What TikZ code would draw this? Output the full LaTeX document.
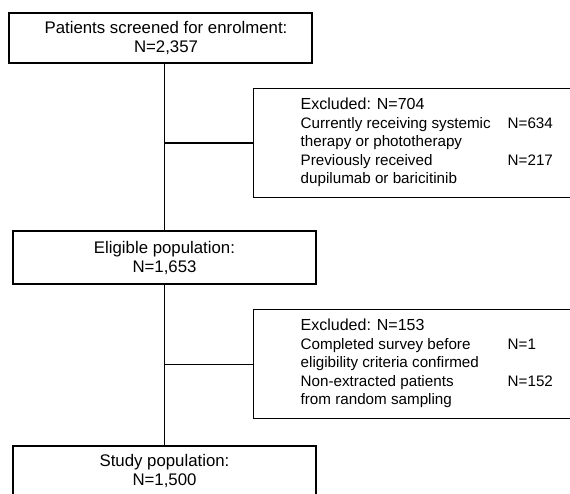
\documentclass[tikz,border=0pt]{standalone}
\usepackage{fontspec}
\setmainfont{Liberation Sans}
\usepackage{array}
\begin{document}
\begin{tikzpicture}[x=1pt,y=-1pt,
  box/.style={draw=black, line width=1.4pt, inner sep=0pt},
  mainbox/.style={box, align=center, minimum width=303pt, font=\fontsize{16.8}{19}\selectfont},
  exbox/.style={box, anchor=north west, inner xsep=47pt, inner ysep=0pt, minimum height=109pt, align=left},
  conn/.style={draw=black, line width=1.4pt}]
\useasboundingbox (0,0) rectangle (570,494);
\fill[white] (0,0) rectangle (570,494);

\node[mainbox, minimum height=50pt] (top) at (160.5,38)
  {\hspace*{11pt}Patients screened for enrolment:\\\hspace*{11pt}N=2,357};
\node[mainbox, minimum height=53pt] (elig) at (164.5,257.5)
  {Eligible population:\\N=1,653};
\node[mainbox, minimum height=50pt] (study) at (164.5,471)
  {Study population:\\N=1,500};

\node[exbox] (ex1) at (253,88) {\fontsize{15.2}{18.5}\selectfont
  \begin{tabular}{@{}p{207pt}@{}l@{}}
  \multicolumn{2}{@{}l@{}}{\fontsize{16}{18.5}\selectfont Excluded: N=704}\\
  Currently receiving systemic & N=634\\
  therapy or phototherapy & \\
  Previously received & N=217\\
  dupilumab or baricitinib &
  \end{tabular}};
\node[exbox] (ex2) at (253,309) {\fontsize{15.2}{18.5}\selectfont
  \begin{tabular}{@{}p{207pt}@{}l@{}}
  \multicolumn{2}{@{}l@{}}{\fontsize{16}{18.5}\selectfont Excluded: N=153}\\
  Completed survey before & N=1\\
  eligibility criteria confirmed & \\
  Non-extracted patients & N=152\\
  from random sampling &
  \end{tabular}};

\draw[conn] (elig.north |- top.south) -- (elig.north);
\draw[conn] (elig.south) -- (study.north);
\draw[conn] (ex1.west) -- (ex1.west -| elig.north);
\draw[conn] (ex2.west) -- (ex2.west -| elig.north);
\end{tikzpicture}
\end{document}
